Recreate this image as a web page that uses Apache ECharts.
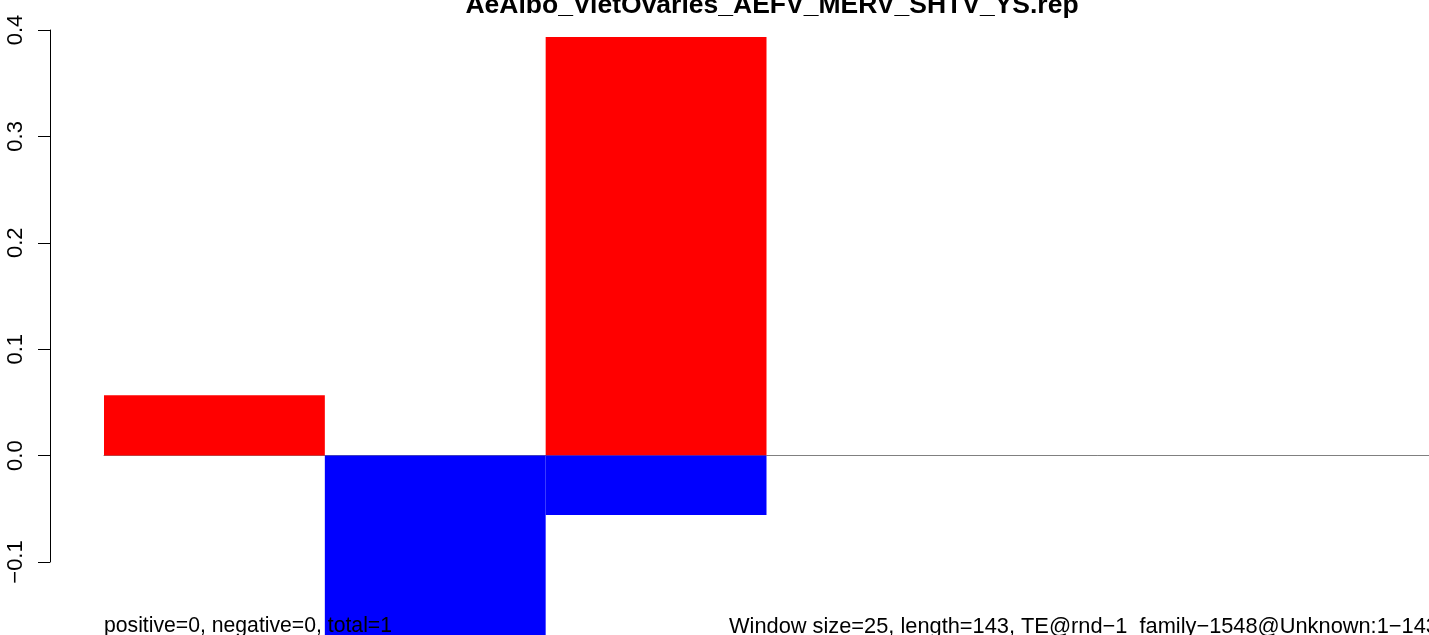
<!DOCTYPE html>
<html>
<head>
<meta charset="utf-8">
<script src="https://cdn.jsdelivr.net/npm/echarts@6/dist/echarts.min.js"></script>
<style>
html,body{margin:0;padding:0;background:#fff;overflow:hidden;}
#c{width:1429px;height:635px;}
</style>
</head>
<body>
<div id="c"></div>
<script>
const titleText = "AeAlbo_VietOvaries_AEFV_MERV_SHTV_YS.rep";
const categories = ["w1", "w2", "w3", "w4", "w5", "w6"];
const positiveValues = [0.0567, null, 0.3935, null, null, null];
const negativeValues = [null, -0.19, -0.0558, null, null, null];
const yTicks = [-0.1, 0.0, 0.1, 0.2, 0.3, 0.4];
const leftNote = "positive=0, negative=0, total=1";
const rightNote = "Window size=25, length=143, TE@rnd\u22121_family\u22121548@Unknown:1\u2212143";

const FONT = '"Liberation Sans", Arial, Helvetica, sans-serif';
const chart = echarts.init(document.getElementById('c'), null, {renderer: 'canvas'});
chart.setOption({
  animation: false,
  backgroundColor: '#ffffff',
  grid: {left: 104, right: 0, top: 30, bottom: 73, containLabel: false},
  xAxis: {
    type: 'category',
    data: categories,
    boundaryGap: true,
    axisLine: {show: true, onZero: true, lineStyle: {color: '#808080', width: 1}},
    axisTick: {show: false},
    axisLabel: {show: false},
    splitLine: {show: false}
  },
  yAxis: {
    type: 'value',
    min: yTicks[0],
    max: yTicks[yTicks.length - 1],
    interval: 0.1,
    offset: 54,
    axisLine: {show: true, lineStyle: {color: '#000', width: 1}},
    axisTick: {show: true, length: 12, lineStyle: {color: '#000', width: 1}},
    splitLine: {show: false},
    axisLabel: {
      rotate: 90,
      margin: 23,
      color: '#000',
      fontFamily: FONT,
      fontSize: 22,
      formatter: v => v.toFixed(1).replace('-', '\u2212')
    }
  },
  series: [
    {
      type: 'bar',
      data: positiveValues,
      barWidth: '100%',
      barGap: '-100%',
      clip: false,
      itemStyle: {color: '#ff0000'},
      z: 2
    },
    {
      type: 'bar',
      data: negativeValues,
      barWidth: '100%',
      barGap: '-100%',
      clip: false,
      itemStyle: {color: '#0000ff'},
      z: 2
    }
  ],
  graphic: [
    {
      type: 'text', x: 772, y: 19.5, z: 100,
      style: {text: titleText, font: 'bold 26.5px ' + FONT, fill: '#000', textAlign: 'center', textVerticalAlign: 'bottom'}
    },
    {
      type: 'text', x: 104, y: 626.5, z: 100,
      style: {text: leftNote, font: '21.2px ' + FONT, fill: '#000', textAlign: 'left', textVerticalAlign: 'middle'}
    },
    {
      type: 'text', x: 729, y: 626.5, z: 100,
      style: {text: rightNote, font: '21.8px ' + FONT, fill: '#000', textAlign: 'left', textVerticalAlign: 'middle'}
    }
  ]
});
</script>
</body>
</html>
